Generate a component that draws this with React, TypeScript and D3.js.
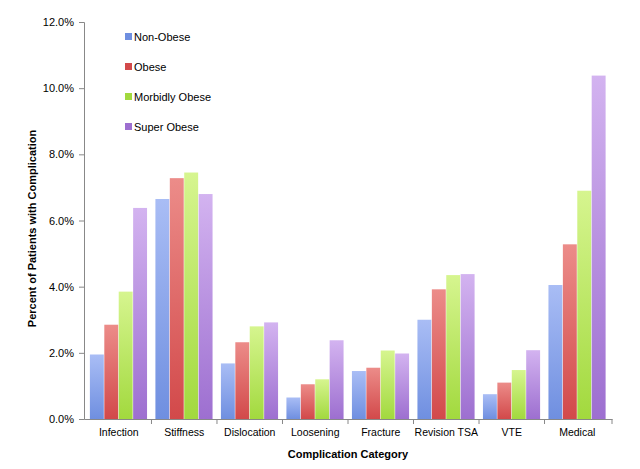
import React, { useRef, useEffect } from "react";
import * as d3 from "d3";

const categories = ["Infection", "Stiffness", "Dislocation", "Loosening", "Fracture", "Revision TSA", "VTE", "Medical"];
const seriesNames = ["Non-Obese", "Obese", "Morbidly Obese", "Super Obese"];
const nonObese = [1.95, 6.65, 1.68, 0.65, 1.45, 3.0, 0.75, 4.05];
const obese = [2.85, 7.28, 2.32, 1.05, 1.55, 3.92, 1.1, 5.28];
const morbidlyObese = [3.85, 7.45, 2.8, 1.2, 2.07, 4.35, 1.48, 6.9];
const superObese = [6.38, 6.8, 2.92, 2.38, 1.98, 4.38, 2.08, 10.38];
const yTicks = [0, 2, 4, 6, 8, 10, 12];
const colorsTop = ["#a9bdf5", "#ec8c89", "#d6f58f", "#d3b3f0"];
const colorsBottom = ["#6f8fe0", "#d2494a", "#a2d93e", "#9d6fd0"];

const App: React.FC = () => {
  const ref = useRef<SVGSVGElement | null>(null);

  useEffect(() => {
    if (!ref.current) return;
    const svg = d3.select(ref.current);
    svg.selectAll("*").remove();
    const series = [nonObese, obese, morbidlyObese, superObese];
    const left = 84, top = 22, right = 612, bottom = 419;
    const x = d3.scaleBand().domain(categories).range([left, right]).paddingInner(0.12).paddingOuter(0.09);
    const x1 = d3.scaleBand().domain(seriesNames).range([0, x.bandwidth()]);
    const y = d3.scaleLinear().domain([0, 12]).range([bottom, top]);
    const font = "Liberation Sans, Arial, sans-serif";

    const defs = svg.append("defs");
    seriesNames.forEach((_, i) => {
      const g = defs.append("linearGradient").attr("id", "g" + i).attr("x1", 0).attr("y1", 0).attr("x2", 0).attr("y2", 1);
      g.append("stop").attr("offset", "0%").attr("stop-color", colorsTop[i]);
      g.append("stop").attr("offset", "100%").attr("stop-color", colorsBottom[i]);
    });

    series.forEach((vals, si) => {
      svg.append("g").selectAll("rect").data(vals).enter().append("rect")
        .attr("x", (_, i) => (x(categories[i]) || 0) + (x1(seriesNames[si]) || 0))
        .attr("y", (d) => y(d))
        .attr("width", x1.bandwidth() - 0.5)
        .attr("height", (d) => bottom - y(d))
        .attr("fill", `url(#g${si})`);
    });

    const yAxis = d3.axisLeft(y).tickValues(yTicks).tickFormat((d) => (d as number).toFixed(1) + "%").tickSize(5).tickPadding(5);
    const gy = svg.append("g").attr("transform", `translate(${left},0)`).call(yAxis);
    gy.select(".domain").attr("stroke", "#888");
    gy.selectAll("line").attr("stroke", "#888");
    gy.selectAll("text").attr("font-family", font).attr("font-size", 11).attr("fill", "#000");

    const xAxis = d3.axisBottom(x).tickSize(0).tickPadding(10);
    const gx = svg.append("g").attr("transform", `translate(0,${bottom})`).call(xAxis);
    gx.select(".domain").attr("stroke", "#888");
    gx.selectAll("text").attr("font-family", font).attr("font-size", 10.5).attr("fill", "#000");
    categories.forEach((c, i) => {
      if (i === 0) return;
      const xx = (x(c) || 0) - (x.step() * x.paddingInner()) / 2;
      svg.append("line").attr("x1", xx).attr("x2", xx).attr("y1", bottom).attr("y2", bottom + 5).attr("stroke", "#888");
    });
    svg.append("line").attr("x1", right).attr("x2", right).attr("y1", bottom).attr("y2", bottom + 5).attr("stroke", "#888");

    const leg = svg.append("g");
    seriesNames.forEach((n, i) => {
      const ly = 38 + i * 30;
      leg.append("rect").attr("x", 125).attr("y", ly - 5).attr("width", 7).attr("height", 7).attr("fill", colorsBottom[i]);
      leg.append("text").attr("x", 134).attr("y", ly + 3).text(n).attr("font-family", font).attr("font-size", 11);
    });

    svg.append("text").attr("x", (left + right) / 2).attr("y", 458).attr("text-anchor", "middle")
      .attr("font-family", font).attr("font-size", 11).attr("font-weight", "bold").text("Complication Category");
    svg.append("text").attr("transform", `translate(36,${(top + bottom) / 2 + 8}) rotate(-90)`).attr("text-anchor", "middle")
      .attr("font-family", font).attr("font-size", 11).attr("font-weight", "bold").text("Percent of Patients with Complication");
  }, []);

  return (
    <div style={{ position: "absolute", left: 0, top: 0 }}>
      <svg ref={ref} width={640} height={469} style={{ display: "block", background: "#fff" }} />
    </div>
  );
};

export default App;
